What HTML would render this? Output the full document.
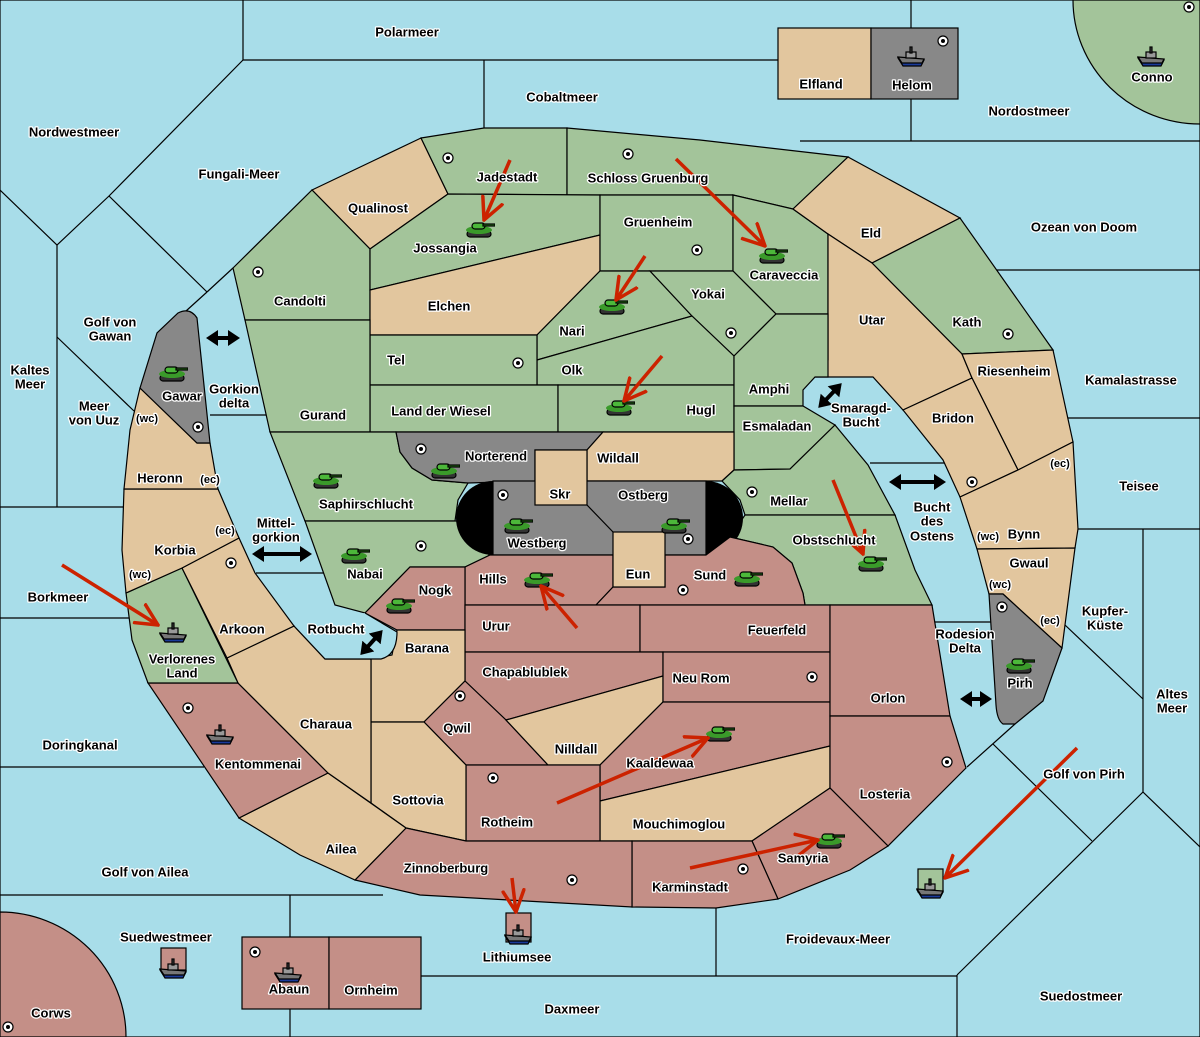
<!DOCTYPE html>
<html><head><meta charset="utf-8"><style>
html,body{margin:0;padding:0;background:#a8dde9}
svg{display:block}
text{font-family:"Liberation Sans",sans-serif;font-weight:bold;font-size:13px;fill:#000;stroke:#fff;stroke-width:2.5px;paint-order:stroke;stroke-linejoin:round;text-anchor:middle;dominant-baseline:central}
.s{font-size:11px}
.g{fill:#a3c49a}.t{fill:#e2c69e}.r{fill:#c48f87}.y{fill:#888888}
polygon,rect,path.p{stroke:#000;stroke-width:1.2}
.l{stroke:#000;stroke-width:1.2;fill:none}
.a{stroke:#cc2200;stroke-width:3.5;fill:none;marker-end:url(#ah)}
.d{stroke:#000;stroke-width:4;marker-start:url(#bh);marker-end:url(#bh)}
</style></head><body>
<svg width="1200" height="1037" viewBox="0 0 1200 1037" xmlns="http://www.w3.org/2000/svg">
<defs>
<marker id="ah" markerWidth="7" markerHeight="7" refX="6.5" refY="3.5" orient="auto" markerUnits="strokeWidth"><path d="M0,0.3 L6.5,3.5 L0,6.7" stroke="#cc2200" stroke-width="1" fill="none"/></marker>
<marker id="bh" markerWidth="4" markerHeight="4" refX="2" refY="2" orient="auto-start-reverse" markerUnits="strokeWidth"><path d="M0,0 L3,2 L0,4z" fill="#000"/></marker>
<symbol id="tank" viewBox="0 0 30 18"><rect x="2" y="11" width="24" height="6" rx="3" fill="#333"/><ellipse cx="14" cy="10" rx="13" ry="4" fill="#3a9a2a"/><rect x="7" y="3" width="13" height="6" rx="3" fill="#4cb83a"/><rect x="18" y="4" width="12" height="2" fill="#2a7a1a"/></symbol>
<symbol id="ship" viewBox="0 0 28 22"><polygon points="1,12 27,14 24,20 6,20" fill="#1a3a9a" stroke="none"/><polygon points="1,11 27,13 25,17 5,17" fill="#777" stroke="none"/><rect x="9" y="6" width="10" height="6" fill="#999" stroke="none"/><rect x="13" y="1" width="2" height="6" fill="#444" stroke="none"/></symbol>
<symbol id="dot" viewBox="0 0 12 12"><circle cx="6" cy="6" r="5" fill="#fff" stroke="#000" stroke-width="1.2"/><circle cx="6" cy="6" r="2" fill="#000"/></symbol>
</defs>
<rect x="0" y="0" width="1200" height="1037" fill="#a8dde9" stroke="#000" stroke-width="2"/>
<g class="l">
<path d="M243,0 V60 H800"/><path d="M484,60 V128"/><path d="M243,60 L109,196 L57,245 L0,190"/><path d="M57,245 V507"/>
<path d="M109,196 L207,292"/><path d="M207,292 L186,311"/><path d="M207,292 L233,268"/>
<path d="M57,337 L134,411"/><path d="M0,507 H124"/><path d="M0,618 H132"/>
<path d="M210,415 H266"/><path d="M256,573 H330"/>
<path d="M911,0 V141"/><path d="M800,141 H1200"/><path d="M997,270 H1200"/><path d="M1068,418 H1200"/><path d="M1078,529 H1200"/>
<path d="M1143,529 V792"/><path d="M1065,625 L1143,699"/><path d="M1143,792 L1200,847"/><path d="M1143,792 L957,975"/><path d="M993,744 L1092,841"/>
<path d="M967,767 L1015,724"/><path d="M957,975 V1037"/><path d="M421,976 H957"/><path d="M716,908 V976"/>
<path d="M0,767 H204"/><path d="M0,895 H383"/><path d="M290,895 V937"/><path d="M290,1009 V1037"/>
<path d="M870,463 H944"/><path d="M935,622 H995"/>
</g>
<rect x="778" y="28" width="93" height="71" class="t"/><rect x="871" y="28" width="87" height="71" class="y"/>
<path class="p g" d="M1073,0 A127,124 0 0 0 1200,124 V0 Z"/>
<path class="p r" d="M0,912 A126,125 0 0 1 126,1037 H0 Z"/>
<rect x="242" y="937" width="87" height="72" class="r"/><rect x="329" y="937" width="92" height="72" class="r"/>
<rect x="161" y="948" width="25" height="22" class="r"/><rect x="506" y="913" width="25" height="29" class="r"/><rect x="918" y="869" width="25" height="23" class="g"/>
<polygon class="t" points="312,190 421,138 448,194 370,249"/>
<polygon class="g" points="421,138 484,128 567,128 567,195 448,194"/>
<polygon class="g" points="567,128 700,140 848,157 793,209 733,195 567,195"/>
<polygon class="g" points="233,268 312,190 370,249 370,320 245,320"/>
<polygon class="g" points="370,249 448,194 600,195 600,235 370,290"/>
<polygon class="t" points="370,290 600,235 600,271 537,335 370,335"/>
<polygon class="g" points="600,195 733,195 733,271 600,271"/>
<polygon class="g" points="733,195 793,209 828,234 828,314 776,314 733,271"/>
<polygon class="t" points="793,209 848,157 960,218 872,263 828,234"/>
<polygon class="g" points="872,263 960,218 1053,350 962,354"/>
<polygon class="t" points="828,234 872,263 962,354 972,378 903,410 873,377 815,377 828,360"/>
<polygon class="t" points="962,354 1053,350 1073,442 1018,470 972,378"/>
<polygon class="t" points="903,410 972,378 1018,470 960,497 943,460"/>
<polygon class="t" points="960,497 1018,470 1073,442 1078,529 1075,548 977,549"/>
<polygon class="t" points="977,549 1075,548 1062,648 1003,594 989,594"/>
<path class="p y" d="M989,594 L1003,594 L1062,648 L1043,701 L1015,724 L1003,724 Q997,720 996,705 Z"/>
<polygon class="g" points="600,271 650,271 692,316 537,360 537,335"/>
<polygon class="g" points="650,271 733,271 776,314 734,356 692,316"/>
<polygon class="g" points="537,360 692,316 734,356 734,385 537,385"/>
<polygon class="g" points="370,335 537,335 537,385 370,385"/>
<polygon class="g" points="370,385 558,385 558,432 370,432"/>
<polygon class="g" points="558,385 734,385 734,432 558,432"/>
<polygon class="g" points="734,356 776,314 828,314 828,377 815,377 803,390 803,406 734,406"/>
<polygon class="g" points="734,406 803,406 835,425 790,469 734,470"/>
<polygon class="g" points="245,320 370,320 370,432 270,432"/>
<polygon class="g" points="270,432 396,432 400,452 412,468 432,480 468,483 458,500 455,521 305,521"/>
<polygon class="y" points="396,432 603,432 587,450 535,450 535,481 468,483 432,480 412,468 400,452"/>
<polygon class="t" points="603,432 734,432 734,470 722,481 587,481 587,450"/>
<polygon class="g" points="722,481 734,470 790,469 835,425 868,465 895,515 745,515 740,500"/>
<polygon class="g" points="745,515 895,515 915,570 932,605 805,605 803,593 792,563 773,547 730,537"/>
<polygon class="g" points="305,521 458,521 470,545 490,555 465,567 410,567 365,613 335,605"/>
<rect x="493" y="481" width="213" height="74" class="y"/>
<path d="M493,481 A37,37 0 0 0 493,555 Z" fill="#000"/><path d="M706,481 A37,37 0 0 1 706,555 Z" fill="#000"/>
<path class="l" d="M587,505 L613,532"/>
<rect x="535" y="450" width="52" height="55" class="t"/>
<polygon class="r" points="490,555 613,555 613,587 596,605 465,605 465,567"/>
<polygon class="r" points="665,555 706,555 730,537 773,547 792,563 803,593 805,605 596,605 613,587 665,587"/>
<rect x="613" y="532" width="52" height="55" class="t"/>
<polygon class="r" points="365,613 410,567 465,567 465,630 397,630"/>
<rect x="465" y="605" width="175" height="47" class="r"/><rect x="640" y="605" width="190" height="47" class="r"/>
<polygon class="r" points="465,652 663,652 663,676 506,720 465,681"/>
<polygon class="t" points="397,630 465,630 465,681 424,722 371,722 371,659 392,655"/>
<polygon class="r" points="465,681 506,720 548,765 466,765 424,722"/>
<polygon class="t" points="506,720 663,676 663,702 600,765 548,765"/>
<rect x="663" y="652" width="167" height="50" class="r"/>
<polygon class="r" points="663,702 830,702 830,746 600,801 600,765"/>
<polygon class="t" points="600,801 830,746 830,788 752,841 600,841"/>
<rect x="466" y="765" width="134" height="76" class="r"/>
<polygon class="t" points="371,722 424,722 466,765 466,841 406,828 371,803"/>
<polygon class="r" points="830,605 932,605 950,716 830,716"/>
<polygon class="r" points="830,716 950,716 966,768 888,846 830,788"/>
<polygon class="r" points="752,841 830,788 888,846 850,870 778,899"/>
<polygon class="r" points="632,841 752,841 778,899 716,908 632,907"/>
<polygon class="r" points="406,828 466,841 632,841 632,907 420,895 355,880"/>
<polygon class="t" points="239,818 328,773 406,828 355,880 300,855"/>
<polygon class="r" points="148,683 238,683 328,773 239,818"/>
<polygon class="t" points="227,658 294,626 325,659 371,659 371,803 328,773 238,683"/>
<path class="p" fill="#a8dde9" d="M294,626 L325,659 L381,659 Q397,655 397,632 L365,613"/>
<polygon class="g" points="126,593 182,568 238,683 148,683 132,640"/>
<polygon class="t" points="182,568 239,538 255,573 294,626 227,658"/>
<polygon class="t" points="124,489 218,489 239,538 182,568 126,593 122,550"/>
<polygon class="t" points="140,388 197,443 210,443 218,489 124,489 130,430"/>
<path class="p y" d="M140,388 L157,333 L178,313 Q190,307 197,318 L210,443 L197,443 Z"/>
<g class="d"><path d="M210,338 H236"/><path d="M256,554 H308"/><path d="M363,652 L380,633"/><path d="M821,405 L839,386"/><path d="M893,482 H942"/><path d="M964,699 H988"/></g>
<g>
<use href="#dot" x="442" y="152" width="12" height="12"/><use href="#dot" x="622" y="148" width="12" height="12"/><use href="#dot" x="252" y="266" width="12" height="12"/><use href="#dot" x="691" y="244" width="12" height="12"/>
<use href="#dot" x="512" y="357" width="12" height="12"/><use href="#dot" x="725" y="327" width="12" height="12"/><use href="#dot" x="1002" y="328" width="12" height="12"/><use href="#dot" x="192" y="421" width="12" height="12"/>
<use href="#dot" x="415" y="443" width="12" height="12"/><use href="#dot" x="497" y="489" width="12" height="12"/><use href="#dot" x="682" y="533" width="12" height="12"/><use href="#dot" x="746" y="486" width="12" height="12"/>
<use href="#dot" x="966" y="476" width="12" height="12"/><use href="#dot" x="225" y="557" width="12" height="12"/><use href="#dot" x="415" y="540" width="12" height="12"/><use href="#dot" x="677" y="584" width="12" height="12"/>
<use href="#dot" x="806" y="671" width="12" height="12"/><use href="#dot" x="454" y="690" width="12" height="12"/><use href="#dot" x="487" y="772" width="12" height="12"/><use href="#dot" x="941" y="756" width="12" height="12"/>
<use href="#dot" x="566" y="874" width="12" height="12"/><use href="#dot" x="737" y="863" width="12" height="12"/><use href="#dot" x="182" y="702" width="12" height="12"/><use href="#dot" x="249" y="946" width="12" height="12"/>
<use href="#dot" x="2" y="1021" width="12" height="12"/><use href="#dot" x="996" y="601" width="12" height="12"/><use href="#dot" x="937" y="35" width="12" height="12"/><use href="#dot" x="1183" y="1" width="12" height="12"/>
</g>
<g>
<use href="#tank" x="465" y="220" width="30" height="18"/><use href="#tank" x="758" y="246" width="30" height="18"/><use href="#tank" x="598" y="297" width="30" height="18"/><use href="#tank" x="605" y="398" width="30" height="18"/>
<use href="#tank" x="158" y="364" width="30" height="18"/><use href="#tank" x="430" y="461" width="30" height="18"/><use href="#tank" x="312" y="471" width="30" height="18"/><use href="#tank" x="503" y="516" width="30" height="18"/>
<use href="#tank" x="660" y="516" width="30" height="18"/><use href="#tank" x="340" y="546" width="30" height="18"/><use href="#tank" x="385" y="596" width="30" height="18"/><use href="#tank" x="523" y="570" width="30" height="18"/>
<use href="#tank" x="733" y="569" width="30" height="18"/><use href="#tank" x="857" y="554" width="30" height="18"/><use href="#tank" x="1005" y="656" width="30" height="18"/><use href="#tank" x="705" y="724" width="30" height="18"/>
<use href="#tank" x="815" y="831" width="30" height="18"/>
</g>
<g>
<use href="#ship" x="897" y="46" width="28" height="22"/><use href="#ship" x="1137" y="46" width="28" height="22"/><use href="#ship" x="159" y="622" width="28" height="22"/><use href="#ship" x="206" y="724" width="28" height="22"/>
<use href="#ship" x="159" y="958" width="28" height="22"/><use href="#ship" x="274" y="962" width="28" height="22"/><use href="#ship" x="504" y="924" width="28" height="22"/><use href="#ship" x="916" y="878" width="28" height="22"/>
</g>
<g class="a">
<path d="M510,160 L484,220"/><path d="M676,159 L765,246"/><path d="M645,256 L616,300"/><path d="M662,356 L624,401"/>
<path d="M62,565 L158,625"/><path d="M577,628 L541,586"/><path d="M833,480 L863,554"/><path d="M557,803 L708,738"/>
<path d="M690,868 L818,840"/><path d="M1077,748 L945,878"/><path d="M512,878 L516,912"/>
</g>
<g>
<text x="407" y="32">Polarmeer</text><text x="562" y="97">Cobaltmeer</text><text x="821" y="84">Elfland</text><text x="912" y="85">Helom</text><text x="1152" y="77">Conno</text>
<text x="1029" y="111">Nordostmeer</text><text x="74" y="132">Nordwestmeer</text><text x="239" y="174">Fungali-Meer</text><text x="1084" y="227">Ozean von Doom</text>
<text x="507" y="177">Jadestadt</text><text x="648" y="178">Schloss Gruenburg</text><text x="378" y="208">Qualinost</text><text x="658" y="222">Gruenheim</text>
<text x="871" y="233">Eld</text><text x="445" y="248">Jossangia</text><text x="784" y="275">Caraveccia</text><text x="300" y="301">Candolti</text>
<text x="449" y="306">Elchen</text><text x="708" y="294">Yokai</text><text x="872" y="320">Utar</text><text x="967" y="322">Kath</text>
<text x="572" y="331">Nari</text><text x="110" y="322">Golf von</text><text x="110" y="336">Gawan</text><text x="396" y="360">Tel</text><text x="572" y="370">Olk</text>
<text x="30" y="370">Kaltes</text><text x="30" y="384">Meer</text><text x="1014" y="371">Riesenheim</text><text x="1131" y="380">Kamalastrasse</text>
<text x="769" y="389">Amphi</text><text x="182" y="396">Gawar</text><text x="234" y="389">Gorkion</text><text x="234" y="403">delta</text>
<text x="861" y="408">Smaragd-</text><text x="861" y="422">Bucht</text><text x="94" y="406">Meer</text><text x="94" y="420">von Uuz</text><text x="147" y="419" class="s">(wc)</text>
<text x="441" y="411">Land der Wiesel</text><text x="323" y="415">Gurand</text><text x="701" y="410">Hugl</text><text x="953" y="418">Bridon</text><text x="777" y="426">Esmaladan</text>
<text x="496" y="456">Norterend</text><text x="618" y="458">Wildall</text><text x="160" y="478">Heronn</text><text x="210" y="480" class="s">(ec)</text>
<text x="1139" y="486">Teisee</text><text x="1060" y="464" class="s">(ec)</text><text x="560" y="494">Skr</text><text x="643" y="495">Ostberg</text><text x="789" y="501">Mellar</text>
<text x="366" y="504">Saphirschlucht</text><text x="932" y="507">Bucht</text><text x="932" y="521">des</text><text x="932" y="536">Ostens</text>
<text x="276" y="523">Mittel-</text><text x="276" y="537">gorkion</text><text x="225" y="531" class="s">(ec)</text><text x="537" y="543">Westberg</text>
<text x="834" y="540">Obstschlucht</text><text x="1024" y="534">Bynn</text><text x="988" y="537" class="s">(wc)</text><text x="175" y="550">Korbia</text><text x="140" y="575" class="s">(wc)</text>
<text x="1029" y="563">Gwaul</text><text x="365" y="574">Nabai</text><text x="638" y="574">Eun</text><text x="493" y="579">Hills</text><text x="710" y="575">Sund</text>
<text x="1000" y="585" class="s">(wc)</text><text x="435" y="590">Nogk</text><text x="58" y="597">Borkmeer</text><text x="1105" y="611">Kupfer-</text><text x="1105" y="625">Küste</text>
<text x="1050" y="621" class="s">(ec)</text><text x="496" y="626">Urur</text><text x="242" y="629">Arkoon</text><text x="336" y="629">Rotbucht</text><text x="777" y="630">Feuerfeld</text>
<text x="965" y="634">Rodesion</text><text x="965" y="648">Delta</text><text x="427" y="648">Barana</text><text x="182" y="659">Verlorenes</text><text x="182" y="673">Land</text>
<text x="525" y="672">Chapablublek</text><text x="701" y="678">Neu Rom</text><text x="1020" y="683">Pirh</text><text x="888" y="698">Orlon</text><text x="1172" y="694">Altes</text><text x="1172" y="708">Meer</text>
<text x="326" y="724">Charaua</text><text x="457" y="728">Qwil</text><text x="576" y="749">Nilldall</text><text x="80" y="745">Doringkanal</text><text x="258" y="764">Kentommenai</text>
<text x="660" y="763">Kaaldewaa</text><text x="1084" y="774">Golf von Pirh</text><text x="885" y="794">Losteria</text><text x="418" y="800">Sottovia</text><text x="507" y="822">Rotheim</text>
<text x="679" y="824">Mouchimoglou</text><text x="341" y="849">Ailea</text><text x="803" y="858">Samyria</text><text x="446" y="868">Zinnoberburg</text><text x="145" y="872">Golf von Ailea</text>
<text x="690" y="887">Karminstadt</text><text x="166" y="937">Suedwestmeer</text><text x="838" y="939">Froidevaux-Meer</text><text x="517" y="957">Lithiumsee</text>
<text x="289" y="989">Abaun</text><text x="371" y="990">Ornheim</text><text x="1081" y="996">Suedostmeer</text><text x="572" y="1009">Daxmeer</text><text x="51" y="1013">Corws</text>
</g>
</svg>
</body></html>
